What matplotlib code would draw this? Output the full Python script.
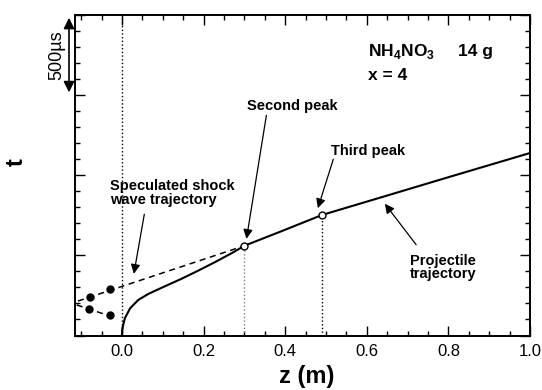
import matplotlib
matplotlib.use('Agg')
import matplotlib.pyplot as plt
from matplotlib.ticker import MultipleLocator, NullFormatter
from matplotlib.transforms import blended_transform_factory

plt.rcParams['font.family'] = ['Liberation Sans', 'DejaVu Sans']
plt.rcParams['mathtext.fontset'] = 'custom'
plt.rcParams['mathtext.rm'] = 'Liberation Sans:bold'
plt.rcParams['mathtext.bf'] = 'Liberation Sans:bold'

# projectile trajectory (z in m, t in microseconds)
proj_z = [0, 0.0005, 0.002, 0.007, 0.020, 0.040, 0.065, 0.105, 0.146, 0.187,
          0.228, 0.269, 0.30, 0.39, 0.49, 0.64, 0.80, 1.0]
proj_t = [0, 30, 55, 107, 170, 222, 260, 307, 354, 405,
          458, 514, 560, 650, 752, 866, 988, 1139]

# peaks on the trajectory
peak_z = [0.30, 0.49]
peak_t = [560, 752]

# speculated shock wave trajectories (dashed) and measured points
shock_upper_z = [-0.108, 0.30]
shock_upper_t = [215, 560]
shock_lower_z = [-0.111, -0.017]
shock_lower_t = [191, 111]
dots_z = [-0.079, -0.029, -0.080, -0.029]
dots_t = [238, 289, 164, 126]

fig = plt.figure(figsize=(5.42, 3.9), dpi=100)
ax = fig.add_axes([0.1384, 0.1397, 0.978 - 0.1384, 0.9615 - 0.1397])

ax.plot(proj_z, proj_t, color='black', lw=1.5, zorder=3)
ax.plot(shock_upper_z, shock_upper_t, color='black', lw=1.1, ls=(0, (4, 3)))
ax.plot(shock_lower_z, shock_lower_t, color='black', lw=1.1, ls=(0, (4, 3)))
ax.plot(dots_z, dots_t, 'o', color='black', ms=5, ls='none', zorder=4)
ax.plot(peak_z, peak_t, 'o', mfc='white', mec='black', ms=5, mew=1, ls='none', zorder=5)

# vertical dotted guides
ax.axvline(0.0, color='black', lw=1, ls=':')
ax.plot([peak_z[0], peak_z[0]], [0, peak_t[0]], color='gray', lw=1, ls=':')
ax.plot([peak_z[1], peak_z[1]], [0, peak_t[1]], color='black', lw=1, ls=':')

ax.set_xlim(-0.115, 1.0)
ax.set_ylim(0, 2000)
ax.xaxis.set_major_locator(MultipleLocator(0.2))
ax.xaxis.set_minor_locator(MultipleLocator(0.05))
ax.yaxis.set_major_locator(MultipleLocator(500))
ax.yaxis.set_minor_locator(MultipleLocator(100))
ax.yaxis.set_major_formatter(NullFormatter())
ax.set_xticks([0.0, 0.2, 0.4, 0.6, 0.8, 1.0])
ax.set_xticklabels(['0.0', '0.2', '0.4', '0.6', '0.8', '1.0'])
ax.tick_params(which='both', direction='in', top=True, right=True, width=1)
ax.tick_params(which='major', length=7, labelsize=12, pad=6)
ax.tick_params(which='minor', length=3.5)
for s in ax.spines.values():
    s.set_linewidth(1.4)

# labels on the plot
bold = dict(fontweight='bold', fontsize=10.5)
arrow = dict(arrowstyle='-|>', color='black', lw=0.9, mutation_scale=14)
ax.text(0.306, 1434, 'Second peak', va='center', ha='left', **bold)
ax.annotate('', xy=(0.304, 586), xytext=(0.355, 1391), arrowprops=arrow)
ax.text(0.512, 1149, 'Third peak', va='center', ha='left', **bold)
ax.annotate('', xy=(0.478, 778), xytext=(0.520, 1117), arrowprops=arrow)
ax.text(-0.029, 890, 'Speculated shock\nwave trajectory', va='center', ha='left',
        linespacing=0.95, **bold)
ax.annotate('', xy=(0.028, 368), xytext=(0.056, 774), arrowprops=arrow)
ax.text(0.787, 425, 'Projectile\ntrajectory', va='center', ha='center',
        linespacing=0.95, **bold)
ax.annotate('', xy=(0.640, 836), xytext=(0.725, 553), arrowprops=arrow)

ax.text(0.603, 1772, r'NH$_{4}$NO$_{3}$', va='center', ha='left',
        fontweight='bold', fontsize=12.5)
ax.text(0.824, 1772, '14 g', va='center', ha='left', fontweight='bold', fontsize=12.5)
ax.text(0.603, 1622, 'x = 4', va='center', ha='left', fontweight='bold', fontsize=12.5)

# 500 us scale arrow left of the axis
trans = blended_transform_factory(fig.transFigure, ax.transData)
ax.annotate('', xy=(69 / 542, 2000), xytext=(69 / 542, 1500), xycoords=trans,
            textcoords=trans, annotation_clip=False,
            arrowprops=dict(arrowstyle='<|-|>', color='black', lw=1.2, mutation_scale=16))
ax.text(57 / 542, 1750, '500µs', transform=trans, rotation=90, va='center',
        ha='center', fontsize=13)

fig.text(16.7 / 542, 1 - 161.7 / 390, 't', rotation=90, ha='center', va='center',
         fontweight='bold', fontsize=17)
fig.text(307 / 542, 1 - 377 / 390, 'z (m)', ha='center', va='center',
         fontweight='bold', fontsize=17)

fig.savefig('out.png', dpi=100)
